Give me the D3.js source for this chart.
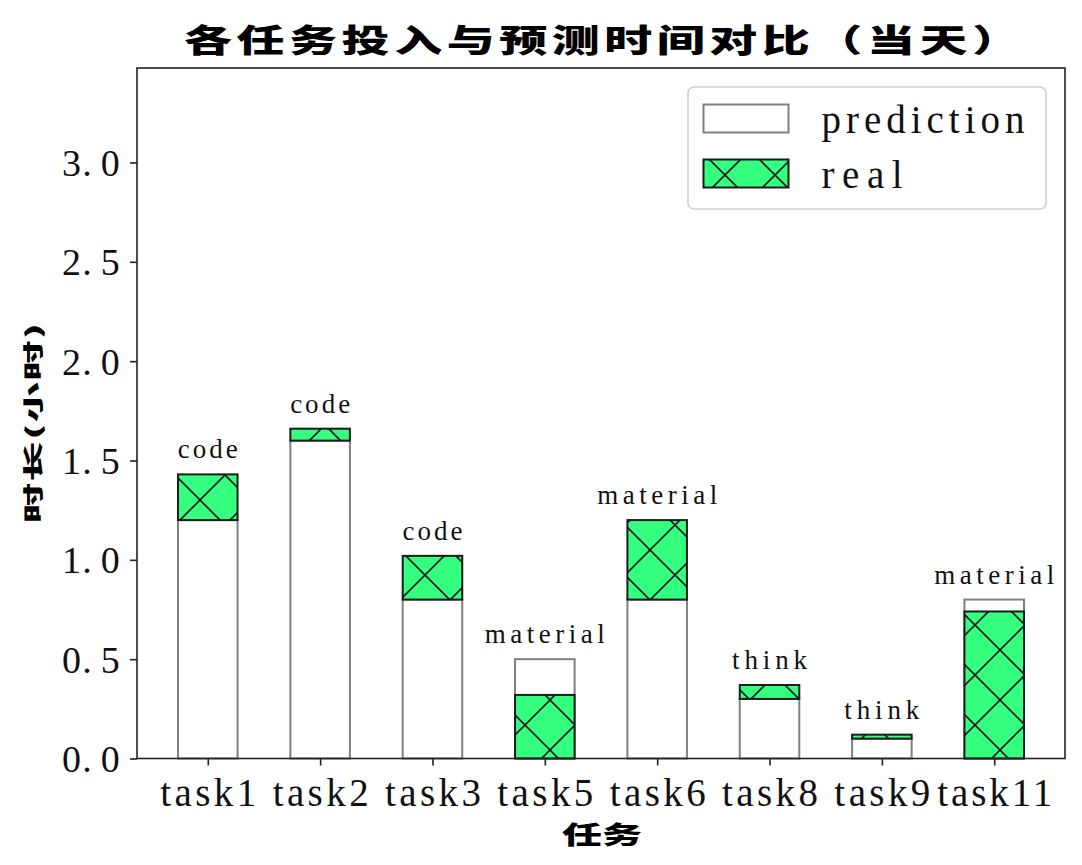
<!DOCTYPE html>
<html>
<head>
<meta charset="utf-8">
<script src="https://cdn.jsdelivr.net/npm/d3@7"></script>
<style>
  html, body { margin: 0; padding: 0; background: #ffffff; }
  svg { display: block; }
</style>
</head>
<body>
<script>
// ---- data ----
const tasks      = ["task1", "task2", "task3", "task5", "task6", "task8", "task9", "task11"];
const prediction = [1.2, 1.6, 0.8, 0.5, 0.8, 0.3, 0.1, 0.8];
const real       = [1.43, 1.66, 1.02, 0.32, 1.2, 0.37, 0.12, 0.74];
const kinds      = ["code", "code", "code", "material", "material", "think", "think", "material"];
const yTicks     = [0, 0.5, 1.0, 1.5, 2.0, 2.5, 3.0];
const seriesNames = ["prediction", "real"];
const titleText  = "各任务投入与预测时间对比（当天）";
const xLabelText = "任务";
const yLabelText = "时长(小时)";

// ---- layout ----
const W = 1082, H = 865;
const pLeft = 137, pRight = 1065, pTop = 68, pBottom = 758.5;
const GREEN = "#34ff7f";
const LATIN = "'Liberation Serif', 'DejaVu Serif', serif";
const CJK = "'Noto Sans CJK SC', 'Noto Sans CJK JP', sans-serif";

const svg = d3.select("body").append("svg").attr("width", W).attr("height", H);

const defs = svg.append("defs");
const pat = defs.append("pattern").attr("id", "hatch")
  .attr("patternUnits", "userSpaceOnUse")
  .attr("x", 0).attr("y", 0).attr("width", 50).attr("height", 50);
pat.append("rect").attr("width", 50).attr("height", 50).attr("fill", GREEN);
pat.append("path").attr("d", "M-10,-10L60,60M60,-10L-10,60")
  .attr("stroke", "#1c1c1c").attr("stroke-width", 1.6).attr("fill", "none");

const x = d3.scaleLinear().domain([-0.63, tasks.length - 1 + 0.63]).range([pLeft, pRight]);
const y = d3.scaleLinear().domain([0, 3.4755]).range([pBottom, pTop]);
const barW = 0.53;

// ---- bars ----
const rows = tasks.map((t, i) => ({ i, t, p: prediction[i], r: real[i], k: kinds[i] }));
const gBars = svg.append("g");
// prediction outlines
gBars.selectAll("rect.pred").data(rows).join("rect").attr("class", "pred")
  .attr("x", d => x(d.i - barW / 2))
  .attr("y", d => y(d.p))
  .attr("width", d => x(d.i + barW / 2) - x(d.i - barW / 2))
  .attr("height", d => y(0) - y(d.p))
  .attr("fill", "#ffffff").attr("stroke", "#808080").attr("stroke-width", 2);
// real (green, hatched): above the prediction when larger, otherwise from zero
gBars.selectAll("rect.real").data(rows).join("rect").attr("class", "real")
  .attr("x", d => x(d.i - barW / 2))
  .attr("y", d => y(d.r))
  .attr("width", d => x(d.i + barW / 2) - x(d.i - barW / 2))
  .attr("height", d => y(d.r > d.p ? d.p : 0) - y(d.r))
  .attr("fill", "url(#hatch)").attr("stroke", "#1c1c1c").attr("stroke-width", 2);

// ---- bar labels ----
svg.append("g").selectAll("text").data(rows).join("text")
  .attr("x", d => x(d.i))
  .attr("y", d => y(Math.max(d.p, d.r)) - 16)
  .attr("text-anchor", "middle")
  .attr("font-family", LATIN).attr("font-size", 27)
  .attr("fill", "#111")
  .attr("textLength", d => d.k.length * 15)
  .attr("lengthAdjust", "spacing")
  .text(d => d.k);

// ---- axes ----
const gx = svg.append("g").attr("transform", `translate(0,${pBottom})`)
  .call(d3.axisBottom(x).tickValues(d3.range(tasks.length)).tickFormat(i => tasks[i])
    .tickSizeOuter(0).tickSize(7).tickPadding(10));
gx.select(".domain").remove();
gx.selectAll(".tick line").attr("stroke", "#222").attr("stroke-width", 1.6);
gx.selectAll(".tick text")
  .attr("font-family", LATIN).attr("font-size", 39).attr("fill", "#111")
  .attr("dy", null).attr("y", 47)
  .attr("textLength", (d) => tasks[d].length * 19.2)
  .attr("lengthAdjust", "spacing");

const fmt = d3.format(".1f");
const gy = svg.append("g").attr("transform", `translate(${pLeft},0)`)
  .call(d3.axisLeft(y).tickValues(yTicks).tickFormat(fmt)
    .tickSizeOuter(0).tickSize(7).tickPadding(10));
gy.select(".domain").remove();
gy.selectAll(".tick line").attr("stroke", "#222").attr("stroke-width", 1.6);
// monospace-like cells for the tick labels
const cell = 19.4;
gy.selectAll(".tick text").each(function (d) {
  const s = fmt(d);
  const t = d3.select(this).text(null)
    .attr("font-family", LATIN).attr("font-size", 38).attr("fill", "#111")
    .attr("text-anchor", "middle").attr("dy", "0.34em").attr("x", null);
  const start = -17 - s.length * cell;
  s.split("").forEach((ch, i) => {
    t.append("tspan")
      .attr("x", start + (i + 0.5) * cell + (ch === "." ? -4 : 0))
      .text(ch);
  });
});

// frame
svg.append("rect").attr("x", pLeft).attr("y", pTop)
  .attr("width", pRight - pLeft).attr("height", pBottom - pTop)
  .attr("fill", "none").attr("stroke", "#222").attr("stroke-width", 1.6);

// ---- CJK texts (wide, squat glyphs) ----
function cjk(str, cx, cy, fs, sy, len, rot) {
  const g = svg.append("g")
    .attr("transform", `translate(${cx},${cy}) rotate(${rot || 0}) scale(1,${sy})`);
  const t = g.append("text")
    .attr("x", 0).attr("y", 0.38 * fs)
    .attr("text-anchor", "middle")
    .attr("font-family", CJK).attr("font-weight", 900)
    .attr("font-size", fs).attr("fill", "#000")
    .text(str);
  if (len) t.attr("textLength", len).attr("lengthAdjust", "spacing");
  return t;
}
cjk(titleText, 602, 39.5, 48, 0.66, 836, 0);
cjk(xLabelText, 602, 834.5, 40, 0.62, 80, 0);
cjk(yLabelText, 33.5, 423, 40, 0.5, 200, -90);

// ---- legend ----
const lg = svg.append("g");
lg.append("rect").attr("x", 688).attr("y", 87).attr("width", 358).attr("height", 122)
  .attr("rx", 6).attr("fill", "#fff").attr("fill-opacity", 0.8)
  .attr("stroke", "#d0d0d0").attr("stroke-width", 1.6);
seriesNames.forEach((name, i) => {
  const yy = 104.5 + i * 55;
  lg.append("rect").attr("x", 703.5).attr("y", yy).attr("width", 85).attr("height", 28)
    .attr("fill", name === "real" ? "url(#hatch)" : "#fff")
    .attr("stroke", name === "real" ? "#1c1c1c" : "#808080").attr("stroke-width", 2);
  lg.append("text").attr("x", 821.5).attr("y", yy + 28)
    .attr("font-family", LATIN).attr("font-size", 39).attr("fill", "#111")
    .attr("textLength", name.length * 20.3).attr("lengthAdjust", "spacing")
    .text(name);
});
</script>
</body>
</html>
